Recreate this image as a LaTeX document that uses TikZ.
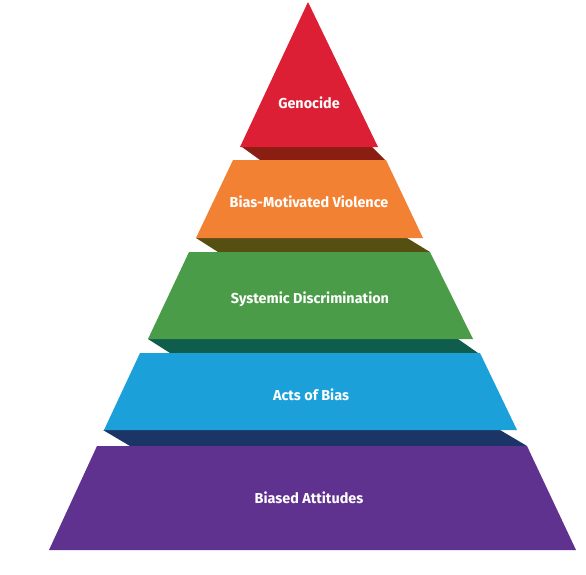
\documentclass[tikz,border=0pt]{standalone}
\usepackage{fontspec}
\setmainfont{Fira Sans}
\usepackage{tikz}
\usetikzlibrary{positioning}

\definecolor{genred}{HTML}{DC1F35}
\definecolor{genredd}{HTML}{8A1E12}
\definecolor{violor}{HTML}{F38134}
\definecolor{violord}{HTML}{564F12}
\definecolor{discgr}{HTML}{4A9C48}
\definecolor{discgrd}{HTML}{0F5D4C}
\definecolor{actbl}{HTML}{1CA0DA}
\definecolor{actbld}{HTML}{1A3566}
\definecolor{attpu}{HTML}{5F3290}

\begin{document}
\begin{tikzpicture}[
    x=1pt, y=-1pt,
    lvl/.style={text=white, font=\fontsize{14.4}{16}\selectfont\bfseries,
                align=center, inner sep=0pt}
  ]
    \useasboundingbox (0,0) rectangle (586,575);
    % shadow bands
    \fill[genredd] (242,147) -- (372,147) -- (385,160) -- (260,160) -- cycle;
    \fill[violord] (196,238) -- (407,238) -- (430,252) -- (218,252) -- cycle;
    \fill[discgrd] (148,339) -- (458,339) -- (478,353) -- (170,353) -- cycle;
    \fill[actbld]  (103,430) -- (500,430) -- (527,446) -- (130,446) -- cycle;
    % slabs
    \fill[genred] (308,2) -- (378,147) -- (240,147) -- cycle;
    \fill[violor] (233,160) -- (386,160) -- (423,238) -- (196,238) -- cycle;
    \fill[discgr] (189,252) -- (430,252) -- (473,339) -- (148,339) -- cycle;
    \fill[actbl]  (140,353) -- (480,353) -- (517,430) -- (104,430) -- cycle;
    \fill[attpu]  (97,446) -- (527,446) -- (576,550) -- (49,550) -- cycle;
    % labels
    \node[lvl] (geno) at (309,103) {Genocide};
    \node[lvl] (viol) at (309,202) {Bias-Motivated Violence};
    \node[lvl] (disc) at (310,299) {Systemic Discrimination};
    \node[lvl] (acts) at (311,395) {Acts of Bias};
    \node[lvl] (atti) at (309,498) {Biased Attitudes};
  \end{tikzpicture}
\end{document}
